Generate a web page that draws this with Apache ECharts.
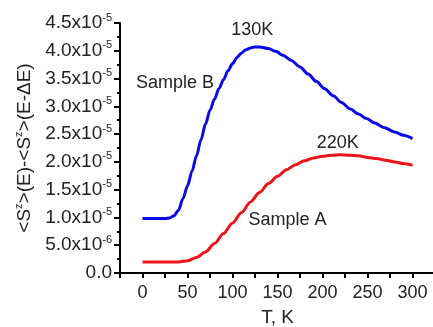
<!DOCTYPE html>
<html>
<head>
<meta charset="utf-8">
<script src="https://cdn.jsdelivr.net/npm/echarts@6/dist/echarts.min.js"></script>
<style>html,body{margin:0;padding:0;background:#fff}#c{width:433px;height:327px}</style>
</head>
<body>
<div id="c"></div>
<script>
// Temperature (K) and values in units of 1e-5
var sampleB_T = [0,10,20,25,30,35,40,45,50,55,60,65,70,75,80,85,90,95,100,105,110,115,120,125,130,140,148,156,165,175,184,193,202,212,221,231,240,249,258,268,280,290,300];
var sampleB_V = [0.98,0.98,0.98,0.98,0.99,1.03,1.13,1.34,1.57,1.83,2.11,2.40,2.68,2.93,3.13,3.32,3.48,3.64,3.77,3.88,3.96,4.02,4.05,4.07,4.07,4.04,3.99,3.92,3.83,3.71,3.58,3.45,3.32,3.19,3.07,2.95,2.86,2.78,2.70,2.62,2.54,2.48,2.42];
var sampleA_T = [0,10,20,30,40,50,60,70,80,90,100,110,120,130,140,150,160,170,180,190,200,210,220,230,240,250,260,270,280,290,300];
var sampleA_V = [0.20,0.20,0.20,0.20,0.20,0.22,0.28,0.38,0.53,0.71,0.90,1.09,1.28,1.45,1.61,1.74,1.86,1.95,2.02,2.07,2.10,2.12,2.13,2.12,2.11,2.08,2.06,2.03,2.00,1.97,1.94];

var yTickValues = [0,0.5,1.0,1.5,2.0,2.5,3.0,3.5,4.0,4.5];
var yTickMantissa = ['0.0','5.0x10','1.0x10','1.5x10','2.0x10','2.5x10','3.0x10','3.5x10','4.0x10','4.5x10'];
var yTickExp = ['','-6','-5','-5','-5','-5','-5','-5','-5','-5'];
var xTickLabels = ['0','50','100','150','200','250','300'];

var annotTexts = ['130K','Sample B','220K','Sample A'];
var annotT = [122, 36, 217, 161];
var annotV = [4.37, 3.42, 2.34, 0.95];

var FONT = '"Liberation Sans", Arial, sans-serif';
var TXT = '#222';

function pairs(t, v){ return t.map(function(x,i){ return [x, v[i]]; }); }

var chart = echarts.init(document.getElementById('c'), null, {renderer:'canvas'});

function annot(i){
  return {coord:[annotT[i], annotV[i]], value: annotTexts[i],
    symbol:'circle', symbolSize:1, itemStyle:{color:'rgba(0,0,0,0)'},
    label:{show:true, position:'inside', formatter: annotTexts[i], color:TXT, fontSize:18, fontFamily:FONT}};
}

chart.setOption({
  animation:false,
  grid:{left:120, top:23, width:315, height:250, containLabel:false, outerBoundsMode:'none'},
  xAxis:{
    type:'value', min:-25, max:325, interval:25,
    name:'T, K', nameLocation:'middle', nameGap:35,
    nameTextStyle:{fontSize:19, color:TXT, fontFamily:FONT},
    axisLine:{show:true, onZero:false, lineStyle:{color:'#000', width:2}},
    axisTick:{show:true, inside:false, length:5, lineStyle:{color:'#000', width:2}},
    splitLine:{show:false},
    axisLabel:{fontSize:18, color:TXT, fontFamily:FONT, margin:11, showMinLabel:true, showMaxLabel:true,
      formatter:function(v){
        var s = String(Math.round(v));
        return xTickLabels.indexOf(s) >= 0 ? s : '';
      }}
  },
  yAxis:{
    type:'value', min:0, max:4.5, interval:0.5,
    name:'<S{s|z}>(E)-<S{s|z}>(E-ΔE)', nameLocation:'middle', nameGap:80, nameRotate:90,
    nameTextStyle:{fontSize:19, color:TXT, fontFamily:FONT,
      rich:{s:{fontSize:11, color:TXT, fontFamily:FONT, verticalAlign:'top', lineHeight:22}}},
    axisLine:{show:true, onZero:false, lineStyle:{color:'#000', width:2}},
    axisTick:{show:true, inside:false, length:6, lineStyle:{color:'#000', width:2}},
    minorTick:{show:true, splitNumber:2, length:3, lineStyle:{color:'#000', width:2}},
    splitLine:{show:false},
    axisLabel:{margin:8, color:TXT, fontFamily:FONT,
      formatter:function(v){
        var i = -1;
        for (var k=0;k<yTickValues.length;k++){ if (Math.abs(yTickValues[k]-v)<1e-6) i=k; }
        if (i<0) return '';
        return '{m|'+yTickMantissa[i]+'}' + (yTickExp[i] ? '{e|'+yTickExp[i]+'}' : '');
      },
      rich:{
        m:{fontSize:19, color:TXT, fontFamily:FONT, lineHeight:22},
        e:{fontSize:11, color:TXT, fontFamily:FONT, verticalAlign:'top', lineHeight:22}
      }}
  },
  series:[
    {type:'line', name:'Sample B', data:pairs(sampleB_T, sampleB_V), smooth:0.3, smoothMonotone:'x', showSymbol:false,
      lineStyle:{color:'#0a0ae8', width:3}, itemStyle:{color:'#0a0ae8'},
      markPoint:{silent:true, data:[annot(0), annot(1)]}},
    {type:'line', name:'Sample A', data:pairs(sampleA_T, sampleA_V), smooth:0.3, smoothMonotone:'x', showSymbol:false,
      lineStyle:{color:'#ec1418', width:3}, itemStyle:{color:'#ec1418'},
      markPoint:{silent:true, data:[annot(2), annot(3)]}}
  ]
});
</script>
</body>
</html>
